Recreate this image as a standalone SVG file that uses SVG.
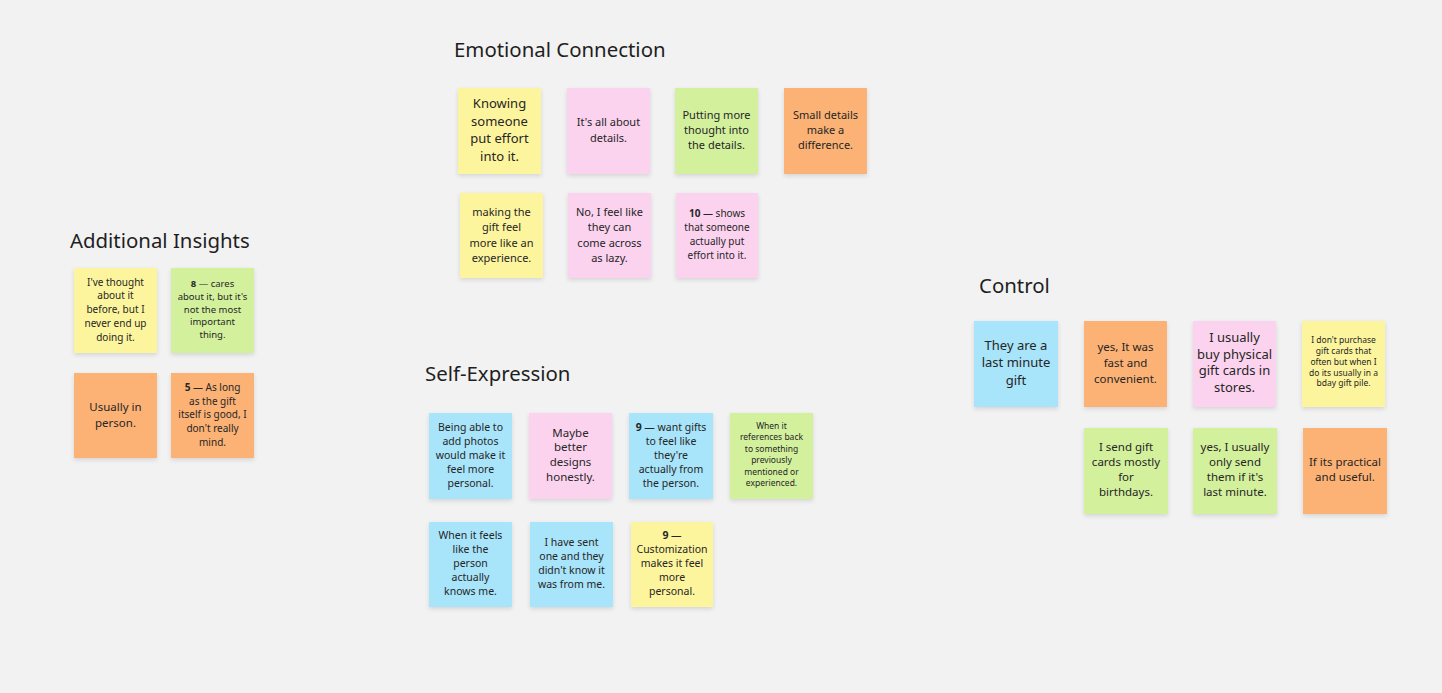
<svg xmlns="http://www.w3.org/2000/svg" width="1442" height="693" viewBox="0 0 1442 693">
<style>
.bg{fill:#f2f2f2}
.title{font-family:"Noto Sans","Open Sans",sans-serif;font-size:20.4px;fill:#1f1f1f}
.n{filter:url(#sh)}
.y{fill:#fdf59d}.p{fill:#fcd3ef}.g{fill:#d3f09d}.o{fill:#fcb275}.b{fill:#a8e4fa}
text.t{font-family:"Noto Sans","Open Sans",sans-serif;fill:#262626;text-anchor:middle}
.b7{font-weight:bold}
</style>
<defs>
<filter id="sh" x="-10%" y="-10%" width="120%" height="125%">
<feDropShadow dx="0" dy="2" stdDeviation="2" flood-color="#000" flood-opacity="0.12"/>
</filter>
</defs>
<rect class="bg" x="0" y="0" width="1442" height="693"/>

<text class="title" x="454" y="57">Emotional Connection</text>
<text class="title" x="70" y="248">Additional Insights</text>
<text class="title" x="425" y="381">Self-Expression</text>
<text class="title" x="979" y="293">Control</text>

<g id="connectors"></g>

<!-- Emotional Connection -->
<g id="ec1"><rect class="n y" x="458" y="88" width="83" height="86"/>
<text class="t" font-size="13" x="499.5"><tspan x="499.5" y="108">Knowing</tspan><tspan x="499.5" y="125.5">someone</tspan><tspan x="499.5" y="143">put effort</tspan><tspan x="499.5" y="160.5">into it.</tspan></text></g>
<g id="ec2"><rect class="n p" x="567" y="88" width="83" height="86"/>
<text class="t" font-size="11" x="608.5"><tspan x="608.5" y="126">It's all about</tspan><tspan x="608.5" y="141.5">details.</tspan></text></g>
<g id="ec3"><rect class="n g" x="675" y="88" width="83" height="86"/>
<text class="t" font-size="11" x="716.5"><tspan x="716.5" y="118.5">Putting more</tspan><tspan x="716.5" y="133.5">thought into</tspan><tspan x="716.5" y="149">the details.</tspan></text></g>
<g id="ec4"><rect class="n o" x="784" y="88" width="83" height="86"/>
<text class="t" font-size="11" x="825.5"><tspan x="825.5" y="118.5">Small details</tspan><tspan x="825.5" y="133.5">make a</tspan><tspan x="825.5" y="149">difference.</tspan></text></g>
<g id="ec5"><rect class="n y" x="460" y="193" width="83" height="85"/>
<text class="t" font-size="11" x="501.5"><tspan x="501.5" y="216">making the</tspan><tspan x="501.5" y="231">gift feel</tspan><tspan x="501.5" y="246.5">more like an</tspan><tspan x="501.5" y="262">experience.</tspan></text></g>
<g id="ec6"><rect class="n p" x="568" y="193" width="83" height="85"/>
<text class="t" font-size="11" x="609.5"><tspan x="609.5" y="216">No, I feel like</tspan><tspan x="609.5" y="231">they can</tspan><tspan x="609.5" y="246.5">come across</tspan><tspan x="609.5" y="262">as lazy.</tspan></text></g>
<g id="ec7"><rect class="n p" x="676" y="193" width="82" height="85"/>
<text class="t" font-size="10" x="717"><tspan x="717" y="217"><tspan class="b7">10</tspan> — shows</tspan><tspan x="717" y="231">that someone</tspan><tspan x="717" y="245">actually put</tspan><tspan x="717" y="258.5">effort into it.</tspan></text></g>

<!-- Additional Insights -->
<g id="ai1"><rect class="n y" x="74" y="268" width="83" height="85"/>
<text class="t" font-size="10" x="115.5"><tspan x="115.5" y="285.5">I've thought</tspan><tspan x="115.5" y="299">about it</tspan><tspan x="115.5" y="313">before, but I</tspan><tspan x="115.5" y="327">never end up</tspan><tspan x="115.5" y="341">doing it.</tspan></text></g>
<g id="ai2"><rect class="n g" x="171" y="268" width="83" height="85"/>
<text class="t" font-size="9.5" x="212.5"><tspan x="212.5" y="287"><tspan class="b7">8</tspan> — cares</tspan><tspan x="212.5" y="299.5">about it, but it's</tspan><tspan x="212.5" y="312.5">not the most</tspan><tspan x="212.5" y="325">important</tspan><tspan x="212.5" y="338">thing.</tspan></text></g>
<g id="ai3"><rect class="n o" x="74" y="373" width="83" height="85"/>
<text class="t" font-size="11.5" x="115.5"><tspan x="115.5" y="411">Usually in</tspan><tspan x="115.5" y="427">person.</tspan></text></g>
<g id="ai4"><rect class="n o" x="171" y="373" width="83" height="85"/>
<text class="t" font-size="10" x="212.5"><tspan x="212.5" y="390.5"><tspan class="b7">5</tspan> — As long</tspan><tspan x="212.5" y="404.5">as the gift</tspan><tspan x="212.5" y="418">itself is good, I</tspan><tspan x="212.5" y="432">don't really</tspan><tspan x="212.5" y="445.5">mind.</tspan></text></g>

<!-- Self-Expression -->
<g id="se1"><rect class="n b" x="429" y="413" width="83" height="86"/>
<text class="t" font-size="10.5" x="470.5"><tspan x="470.5" y="430.5">Being able to</tspan><tspan x="470.5" y="444.5">add photos</tspan><tspan x="470.5" y="458.5">would make it</tspan><tspan x="470.5" y="473">feel more</tspan><tspan x="470.5" y="487">personal.</tspan></text></g>
<g id="se2"><rect class="n p" x="529" y="413" width="83" height="86"/>
<text class="t" font-size="11.5" x="570.5"><tspan x="570.5" y="436.5">Maybe</tspan><tspan x="570.5" y="451">better</tspan><tspan x="570.5" y="465.5">designs</tspan><tspan x="570.5" y="480.5">honestly.</tspan></text></g>
<g id="se3"><rect class="n b" x="629" y="413" width="84" height="86"/>
<text class="t" font-size="10.5" x="671"><tspan x="671" y="430.5"><tspan class="b7">9</tspan> — want gifts</tspan><tspan x="671" y="444.5">to feel like</tspan><tspan x="671" y="458.5">they're</tspan><tspan x="671" y="473">actually from</tspan><tspan x="671" y="487">the person.</tspan></text></g>
<g id="se4"><rect class="n g" x="730" y="413" width="83" height="86"/>
<text class="t" font-size="8.5" x="771.5"><tspan x="771.5" y="428.5">When it</tspan><tspan x="771.5" y="440">references back</tspan><tspan x="771.5" y="451.5">to something</tspan><tspan x="771.5" y="463">previously</tspan><tspan x="771.5" y="474.5">mentioned or</tspan><tspan x="771.5" y="486">experienced.</tspan></text></g>
<g id="se5"><rect class="n b" x="429" y="522" width="83" height="85"/>
<text class="t" font-size="10.5" x="470.5"><tspan x="470.5" y="539">When it feels</tspan><tspan x="470.5" y="553">like the</tspan><tspan x="470.5" y="567">person</tspan><tspan x="470.5" y="581">actually</tspan><tspan x="470.5" y="595">knows me.</tspan></text></g>
<g id="se6"><rect class="n b" x="530" y="522" width="83" height="85"/>
<text class="t" font-size="10.5" x="571.5"><tspan x="571.5" y="546">I have sent</tspan><tspan x="571.5" y="560">one and they</tspan><tspan x="571.5" y="574">didn't know it</tspan><tspan x="571.5" y="588">was from me.</tspan></text></g>
<g id="se7"><rect class="n y" x="631" y="522" width="82" height="85"/>
<text class="t" font-size="10.5" x="672"><tspan x="672" y="539"><tspan class="b7">9</tspan> —</tspan><tspan x="672" y="553">Customization</tspan><tspan x="672" y="567">makes it feel</tspan><tspan x="672" y="581">more</tspan><tspan x="672" y="595">personal.</tspan></text></g>

<!-- Control -->
<g id="c1"><rect class="n b" x="974" y="321" width="84" height="86"/>
<text class="t" font-size="13" x="1016"><tspan x="1016" y="349.5">They are a</tspan><tspan x="1016" y="367">last minute</tspan><tspan x="1016" y="384.5">gift</tspan></text></g>
<g id="c2"><rect class="n o" x="1084" y="321" width="83" height="86"/>
<text class="t" font-size="11.5" x="1125.5"><tspan x="1125.5" y="351">yes, It was</tspan><tspan x="1125.5" y="367">fast and</tspan><tspan x="1125.5" y="382.5">convenient.</tspan></text></g>
<g id="c3"><rect class="n p" x="1193" y="321" width="83" height="86"/>
<text class="t" font-size="13" x="1234.5"><tspan x="1234.5" y="342">I usually</tspan><tspan x="1234.5" y="358.5">buy physical</tspan><tspan x="1234.5" y="375">gift cards in</tspan><tspan x="1234.5" y="392">stores.</tspan></text></g>
<g id="c4"><rect class="n y" x="1302" y="321" width="83" height="86"/>
<text class="t" font-size="8.5" x="1343.5"><tspan x="1343.5" y="342.5">I don't purchase</tspan><tspan x="1343.5" y="353.5">gift cards that</tspan><tspan x="1343.5" y="364.5">often but when I</tspan><tspan x="1343.5" y="375.5">do its usually in a</tspan><tspan x="1343.5" y="386">bday gift pile.</tspan></text></g>
<g id="c5"><rect class="n g" x="1084" y="428" width="84" height="86"/>
<text class="t" font-size="11.5" x="1126"><tspan x="1126" y="451">I send gift</tspan><tspan x="1126" y="466">cards mostly</tspan><tspan x="1126" y="481">for</tspan><tspan x="1126" y="496">birthdays.</tspan></text></g>
<g id="c6"><rect class="n g" x="1193" y="428" width="84" height="86"/>
<text class="t" font-size="11.5" x="1235"><tspan x="1235" y="451">yes, I usually</tspan><tspan x="1235" y="466">only send</tspan><tspan x="1235" y="481">them if it's</tspan><tspan x="1235" y="496">last minute.</tspan></text></g>
<g id="c7"><rect class="n o" x="1303" y="428" width="84" height="86"/>
<text class="t" font-size="11.5" x="1345"><tspan x="1345" y="466">If its practical</tspan><tspan x="1345" y="481">and useful.</tspan></text></g>
</svg>
